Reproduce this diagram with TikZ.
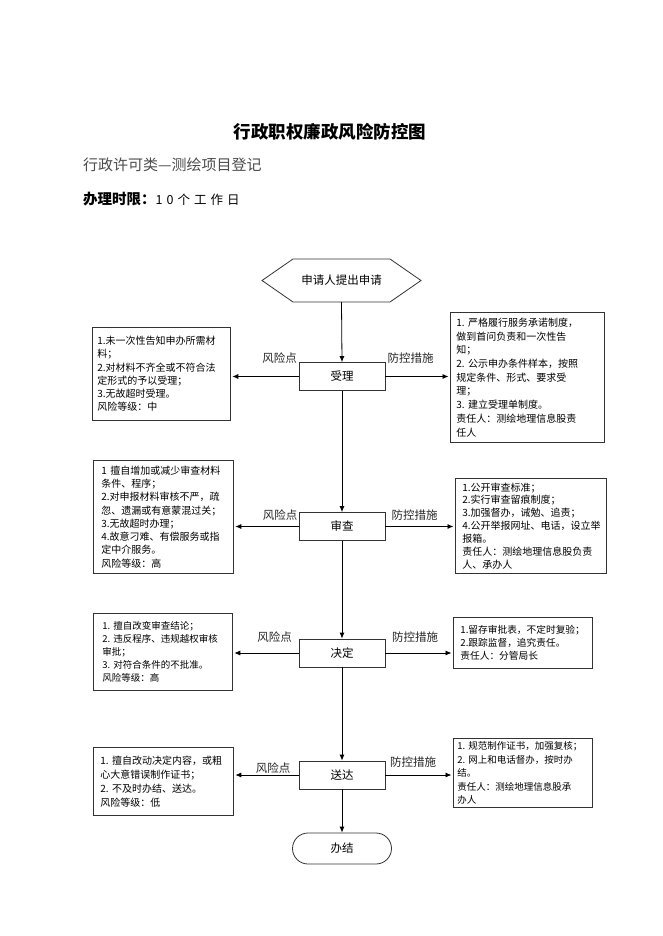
\documentclass[tikz,border=0pt]{standalone}
\usepackage{fontspec}
\setmainfont{Noto Sans CJK SC}
\usetikzlibrary{arrows.meta}
\begin{document}
\begin{tikzpicture}[x=1pt,y=-1pt,
  boxline/.style={draw=black!80, line width=0.8pt},
  flowbox/.style={boxline, minimum width=86pt, minimum height=28pt, inner sep=0pt, font=\fontsize{11.5}{13}\selectfont},
  infobox/.style={boxline, anchor=north west, align=left, inner ysep=0pt, font=\fontsize{10}{13.3}\selectfont},
  lbl/.style={font=\fontsize{11.5}{13}\selectfont, inner sep=0pt, text=black!85},
  conn/.style={line width=0.8pt, -{Latex[length=6pt,width=5pt]}},
]
\useasboundingbox (0,0) rectangle (662,936);
\fill[white] (0,0) rectangle (662,936);

% headings
\node[font=\fontsize{17.5}{20}\selectfont\bfseries] (title) at (330,132) {行政职权廉政风险防控图};
\node[anchor=west, font=\fontsize{15}{18}\selectfont, text=black!70, inner sep=0pt] (sub) at (83,165) {行政许可类—测绘项目登记};
\node[anchor=west, inner sep=0pt] (limit) at (83,199) {{\fontsize{14.5}{17}\selectfont\bfseries 办理时限：}{\fontsize{12.5}{15}\selectfont 1\hspace{4pt}0\hspace{4pt}个\hspace{4pt}工\hspace{4pt}作\hspace{4pt}日}};

% start hexagon
\draw[boxline] (262,280.5) -- (293,259) -- (390,259) -- (421,280.5) -- (390,302) -- (293,302) -- cycle;
\node[minimum width=159pt, minimum height=43pt, inner sep=0pt, font=\fontsize{11.5}{13}\selectfont] (start) at (341.5,280.5) {申请人提出申请};

% flow boxes
\node[flowbox] (shouli) at (342,376.5) {受理};
\node[flowbox] (shencha) at (342,526.5) {审查};
\node[flowbox] (jueding) at (342,653) {决定};
\node[flowbox] (songda) at (342,775) {送达};
\node[boxline, minimum width=99pt, minimum height=31pt, rounded corners=15.5pt, inner sep=0pt, font=\fontsize{11.5}{13}\selectfont] (banjie) at (342,848.5) {办结};

% info boxes
\node[infobox, text width=128pt, inner xsep=5pt, minimum height=93pt] (L1) at (92,327) {1.未一次性告知申办所需材\\料；\\2.对材料不齐全或不符合法\\定形式的予以受理；\\3.无故超时受理。\\风险等级：中};
\node[infobox, text width=142pt, inner xsep=6pt, minimum height=130pt, font=\fontsize{10}{13.7}\selectfont] (R1) at (450,312) {1.~严格履行服务承诺制度，\\做到首问负责和一次性告\\知；\\2.~公示申办条件样本，按照\\规定条件、形式、要求受\\理；\\3.~建立受理单制度。\\责任人：测绘地理信息股责\\任人};

\node[infobox, text width=124pt, inner xsep=8pt, minimum height=113pt] (L2) at (93,460) {1~擅自增加或减少审查材料\\条件、程序；\\2.对申报材料审核不严，疏\\忽、遗漏或有意蒙混过关；\\3.无故超时办理；\\4.故意刁难、有偿服务或指\\定中介服务。\\风险等级：高};
\node[infobox, text width=137pt, inner xsep=7pt, minimum height=95pt, font=\fontsize{10}{12.9}\selectfont] (R2) at (455,478) {1.公开审查标准；\\2.实行审查留痕制度；\\3.加强督办，诫勉、追责；\\4.公开举报网址、电话，设立举\\报箱。\\责任人：测绘地理信息股负责\\人、承办人};

\node[infobox, text width=121pt, inner xsep=9pt, minimum height=77pt, font=\fontsize{9.5}{13.1}\selectfont] (L3) at (93,613) {1.~擅自改变审查结论；\\2.~违反程序、违规越权审核\\审批；\\3.~对符合条件的不批准。\\风险等级：高};
\node[infobox, text width=125pt, inner xsep=7pt, minimum height=51pt, font=\fontsize{9.7}{12.8}\selectfont] (R3) at (453,617) {1.留存审批表，不定时复验；\\2.跟踪监督，追究责任。\\责任人：分管局长};

\node[infobox, text width=126pt, inner xsep=7pt, minimum height=68pt, font=\fontsize{10}{13.9}\selectfont] (L4) at (93,747) {1.~擅自改动决定内容，或粗\\心大意错误制作证书；\\2.~不及时办结、送达。\\风险等级：低};
\node[infobox, text width=131pt, inner xsep=4pt, minimum height=69pt, font=\fontsize{9.5}{13.5}\selectfont] (R4) at (453,738) {1.~规范制作证书，加强复核；\\2.~网上和电话督办，按时办\\结。\\责任人：测绘地理信息股承\\办人};

% labels
\node[lbl] (rk1) at (279.5,358) {风险点};
\node[lbl] (pc1) at (410.5,358) {防控措施};
\node[lbl] (rk2) at (280,515) {风险点};
\node[lbl] (pc2) at (414.5,515) {防控措施};
\node[lbl] (rk3) at (274.5,637) {风险点};
\node[lbl] (pc3) at (415,637) {防控措施};
\node[lbl] (rk4) at (273,768) {风险点};
\node[lbl] (pc4) at (413,762) {防控措施};

% vertical connectors
\draw[conn] (start.south) -- (shouli.north);
\draw[conn] (shouli.south) -- (shencha.north);
\draw[conn] (shencha.south) -- (jueding.north);
\draw[conn] (jueding.south) -- (songda.north);
\draw[conn] (songda.south) -- (banjie.north);

% horizontal connectors
\draw[conn, shorten >=1.5pt] (shouli.west) -- (shouli.west -| L1.east);
\draw[conn, shorten >=1.5pt] (shouli.east) -- (shouli.east -| R1.west);
\draw[conn, shorten >=1.5pt] (shencha.west) -- (shencha.west -| L2.east);
\draw[conn, shorten >=1.5pt] (shencha.east) -- (shencha.east -| R2.west);
\draw[conn, shorten >=1.5pt] (jueding.west) -- (jueding.west -| L3.east);
\draw[conn, shorten >=1.5pt] (jueding.east) -- (jueding.east -| R3.west);
\draw[conn, shorten >=1.5pt] (songda.west) -- (songda.west -| L4.east);
\draw[conn, shorten >=1.5pt] (songda.east) -- (songda.east -| R4.west);
\end{tikzpicture}
\end{document}
